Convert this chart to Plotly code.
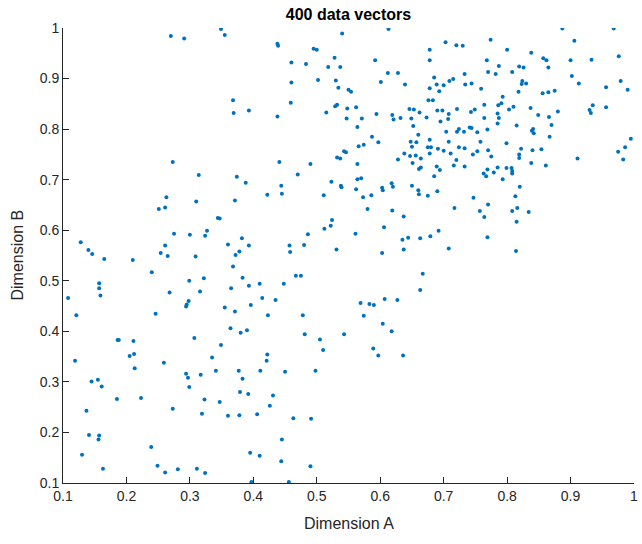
import plotly.graph_objects as go

# Dimension A / Dimension B values, grouped by region of the plot
dim_a = [
    # top-left
    0.270, 0.291, 0.273, 0.314,
    # top-centre
    0.349, 0.355, 0.540, 0.438, 0.439, 0.495, 0.500, 0.528, 0.460, 0.483, 0.518, 0.537,
    0.460, 0.502, 0.530, 0.534, 0.368, 0.369, 0.393, 0.459, 0.438, 0.515, 0.529, 0.532,
    0.548, 0.547, 0.543, 0.546, 0.532, 0.537, 0.441, 0.490, 0.374, 0.470,
    # top-centre-right
    0.613, 0.703, 0.720, 0.730, 0.774, 0.678, 0.678, 0.592, 0.768, 0.612, 0.628, 0.770,
    0.733, 0.601, 0.639, 0.685, 0.689, 0.700, 0.709, 0.715, 0.734, 0.744, 0.759, 0.678,
    0.693, 0.550, 0.554, 0.676, 0.683, 0.562, 0.571, 0.594, 0.619, 0.621, 0.632, 0.646,
    0.653, 0.662, 0.649, 0.673, 0.690, 0.698, 0.708, 0.707, 0.695, 0.721, 0.743, 0.749,
    0.764, 0.764, 0.564, 0.652, 0.704, 0.721, 0.724, 0.732, 0.741, 0.744, 0.753, 0.769,
    0.587, 0.597, 0.660, 0.678, 0.648, 0.657, 0.708, 0.758, 0.566, 0.574, 0.650, 0.675,
    0.680, 0.691, 0.700, 0.724, 0.733, 0.770, 0.638, 0.647, 0.656, 0.664, 0.678, 0.711,
    0.746, 0.753, 0.775, 0.628, 0.720, 0.651, 0.564, 0.689, 0.694, 0.661, 0.664, 0.716,
    0.733, 0.769, 0.763, 0.767, 0.685, 0.564, 0.570,
    # top-right
    0.887, 0.968, 0.906, 0.800, 0.838, 0.976, 0.857, 0.862, 0.900, 0.933, 0.787, 0.819,
    0.826, 0.865, 0.782, 0.808, 0.902, 0.824, 0.823, 0.830, 0.913, 0.979, 0.956, 0.990,
    0.818, 0.856, 0.865, 0.875, 0.793, 0.791, 0.786, 0.810, 0.803, 0.837, 0.935, 0.930,
    0.932, 0.956, 0.880, 0.785, 0.787, 0.849, 0.866, 0.785, 0.815, 0.870, 0.841, 0.839,
    0.842, 0.867, 0.995, 0.799, 0.986, 0.975, 0.983, 0.822, 0.840, 0.854, 0.819, 0.819,
    0.838, 0.861, 0.911, 0.785, 0.799, 0.807, 0.808, 0.808, 0.779, 0.793,
    # middle-left
    0.263, 0.310, 0.251, 0.261, 0.128, 0.275, 0.300, 0.261, 0.140, 0.146, 0.254, 0.265,
    0.309, 0.165, 0.210, 0.240, 0.299, 0.322, 0.157, 0.157, 0.159, 0.108, 0.268, 0.316,
    0.298, 0.295, 0.294, 0.121, 0.246,
    # middle-centre
    0.388, 0.523, 0.538, 0.539, 0.444, 0.422, 0.445, 0.511, 0.371, 0.344, 0.347, 0.524,
    0.522, 0.512, 0.327, 0.324, 0.382, 0.486, 0.360, 0.393, 0.457, 0.480, 0.458, 0.378,
    0.372, 0.531, 0.368, 0.467, 0.475, 0.383, 0.410, 0.448, 0.393, 0.365, 0.414, 0.435,
    0.396, 0.355, 0.371, 0.423, 0.478, 0.364, 0.390, 0.380, 0.481, 0.543,
    # middle-centre-right
    0.562, 0.573, 0.586, 0.603, 0.604, 0.618, 0.620, 0.650, 0.660, 0.661, 0.675, 0.690,
    0.580, 0.619, 0.637, 0.717, 0.747, 0.770, 0.757, 0.764, 0.606, 0.561, 0.692, 0.679,
    0.644, 0.663, 0.635, 0.637, 0.769, 0.708, 0.603, 0.667, 0.663, 0.569, 0.583, 0.590,
    0.607, 0.627, 0.574, 0.604, 0.618,
    # middle-right
    0.820, 0.813, 0.816, 0.808, 0.834, 0.815, 0.814,
    # bottom-left
    0.186, 0.188, 0.211, 0.307, 0.119, 0.205, 0.212, 0.213, 0.259, 0.294, 0.297, 0.317,
    0.145, 0.155, 0.161, 0.299, 0.185, 0.223, 0.137, 0.273, 0.141, 0.157, 0.156, 0.239,
    0.130, 0.249, 0.261, 0.281, 0.311, 0.163,
    # bottom-centre
    0.505, 0.349, 0.422, 0.421, 0.510, 0.335, 0.341, 0.377, 0.411, 0.450, 0.498, 0.383,
    0.379, 0.392, 0.431, 0.426, 0.323, 0.347, 0.319, 0.360, 0.378, 0.406, 0.463, 0.491,
    0.445, 0.395, 0.410, 0.444, 0.490, 0.324, 0.397, 0.456,
    # bottom-centre-right
    0.589, 0.597, 0.636,
]

dim_b = [
    # top-left
    0.984, 0.979, 0.735, 0.709,
    # top-centre
    0.998, 0.986, 0.989, 0.969, 0.965, 0.959, 0.957, 0.941, 0.932, 0.929, 0.923, 0.923,
    0.892, 0.897, 0.896, 0.882, 0.857, 0.832, 0.837, 0.852, 0.825, 0.833, 0.845, 0.848,
    0.841, 0.821, 0.756, 0.754, 0.744, 0.742, 0.735, 0.731, 0.706, 0.710,
    # top-centre-right
    0.998, 0.972, 0.966, 0.965, 0.977, 0.957, 0.936, 0.936, 0.936, 0.911, 0.911, 0.913,
    0.909, 0.893, 0.888, 0.902, 0.888, 0.887, 0.895, 0.899, 0.888, 0.890, 0.880, 0.881,
    0.875, 0.878, 0.874, 0.857, 0.857, 0.843, 0.821, 0.830, 0.828, 0.819, 0.822, 0.840,
    0.839, 0.833, 0.821, 0.823, 0.837, 0.837, 0.830, 0.820, 0.815, 0.840, 0.834, 0.839,
    0.848, 0.822, 0.804, 0.806, 0.795, 0.795, 0.800, 0.795, 0.803, 0.802, 0.794, 0.799,
    0.785, 0.774, 0.789, 0.779, 0.775, 0.774, 0.775, 0.775, 0.766, 0.769, 0.765, 0.764,
    0.764, 0.761, 0.757, 0.764, 0.762, 0.758, 0.752, 0.747, 0.748, 0.742, 0.752, 0.752,
    0.750, 0.756, 0.746, 0.740, 0.739, 0.733, 0.731, 0.726, 0.719, 0.721, 0.724, 0.728,
    0.726, 0.720, 0.712, 0.707, 0.707, 0.701, 0.703,
    # top-right
    0.999, 0.999, 0.975, 0.957, 0.951, 0.944, 0.940, 0.936, 0.936, 0.937, 0.925, 0.924,
    0.922, 0.922, 0.909, 0.913, 0.905, 0.895, 0.889, 0.890, 0.890, 0.895, 0.883, 0.878,
    0.874, 0.871, 0.873, 0.876, 0.864, 0.851, 0.847, 0.844, 0.839, 0.842, 0.847, 0.838,
    0.832, 0.843, 0.835, 0.831, 0.822, 0.828, 0.824, 0.811, 0.807, 0.808, 0.800, 0.797,
    0.792, 0.785, 0.781, 0.772, 0.764, 0.755, 0.740, 0.761, 0.758, 0.760, 0.750, 0.743,
    0.733, 0.728, 0.742, 0.724, 0.723, 0.723, 0.717, 0.712, 0.714, 0.701,
    # middle-left
    0.665, 0.657, 0.642, 0.645, 0.576, 0.593, 0.591, 0.570, 0.561, 0.553, 0.555, 0.549,
    0.548, 0.543, 0.541, 0.517, 0.500, 0.505, 0.495, 0.485, 0.471, 0.466, 0.477, 0.479,
    0.460, 0.453, 0.449, 0.432, 0.435,
    # middle-centre
    0.694, 0.696, 0.688, 0.685, 0.688, 0.670, 0.672, 0.669, 0.659, 0.624, 0.623, 0.620,
    0.609, 0.603, 0.599, 0.589, 0.584, 0.592, 0.572, 0.570, 0.570, 0.571, 0.557, 0.558,
    0.551, 0.562, 0.528, 0.510, 0.510, 0.506, 0.494, 0.494, 0.490, 0.485, 0.466, 0.462,
    0.452, 0.447, 0.439, 0.432, 0.432, 0.406, 0.402, 0.397, 0.394, 0.394,
    # middle-centre-right
    0.681, 0.665, 0.669, 0.684, 0.679, 0.693, 0.686, 0.688, 0.679, 0.671, 0.668, 0.677,
    0.642, 0.639, 0.627, 0.644, 0.664, 0.651, 0.638, 0.626, 0.606, 0.593, 0.599, 0.588,
    0.585, 0.584, 0.581, 0.562, 0.586, 0.564, 0.555, 0.514, 0.482, 0.456, 0.454, 0.452,
    0.464, 0.462, 0.431, 0.415, 0.400,
    # middle-right
    0.686, 0.667, 0.644, 0.638, 0.636, 0.617, 0.559,
    # bottom-left
    0.383, 0.383, 0.381, 0.387, 0.342, 0.351, 0.355, 0.327, 0.338, 0.316, 0.308, 0.314,
    0.301, 0.304, 0.291, 0.290, 0.266, 0.268, 0.243, 0.247, 0.195, 0.194, 0.186, 0.171,
    0.156, 0.134, 0.121, 0.127, 0.128, 0.128,
    # bottom-centre
    0.384, 0.373, 0.354, 0.342, 0.363, 0.348, 0.322, 0.322, 0.322, 0.320, 0.322, 0.306,
    0.280, 0.276, 0.273, 0.253, 0.265, 0.260, 0.237, 0.233, 0.234, 0.236, 0.228, 0.227,
    0.186, 0.160, 0.154, 0.143, 0.133, 0.120, 0.102, 0.102,
    # bottom-centre-right
    0.366, 0.352, 0.352,
]

tick_vals = [0.1, 0.2, 0.3, 0.4, 0.5, 0.6, 0.7, 0.8, 0.9, 1.0]
tick_text = ["0.1", "0.2", "0.3", "0.4", "0.5", "0.6", "0.7", "0.8", "0.9", "1"]

FONT = "Liberation Sans, Arial, sans-serif"
INK = "#262626"

fig = go.Figure(
    go.Scatter(
        x=dim_a, y=dim_b, mode="markers",
        marker=dict(color="#0072BD", size=4, line=dict(width=0)),
        hoverinfo="x+y",
    )
)

axis_common = dict(
    range=[0.1, 1.0], tickvals=tick_vals, ticktext=tick_text,
    ticks="inside", ticklen=6, tickwidth=1, tickcolor=INK,
    showline=True, linecolor=INK, linewidth=1,
    showgrid=False, zeroline=False, mirror=False,
    tickfont=dict(family=FONT, size=14, color=INK),
    ticklabeloverflow="allow",
)

fig.update_xaxes(**axis_common)
fig.update_yaxes(**axis_common)

fig.update_layout(
    width=642, height=544,
    margin=dict(l=63, r=4, t=28, b=61),
    paper_bgcolor="white", plot_bgcolor="white",
    showlegend=False,
    title=dict(
        text="<b>400 data vectors</b>", x=0.5, xref="paper", xanchor="center",
        y=1 - 14 / 544, yref="container", yanchor="middle",
        font=dict(family=FONT, size=16, color="black"),
    ),
    annotations=[
        dict(text="Dimension A", x=0.5, y=0, xref="paper", yref="paper",
             xanchor="center", yanchor="middle", yshift=-40, showarrow=False,
             font=dict(family=FONT, size=16, color=INK)),
        dict(text="Dimension B", x=0, y=0.5, xref="paper", yref="paper",
             xanchor="center", yanchor="middle", xshift=-46, textangle=-90,
             showarrow=False, font=dict(family=FONT, size=16, color=INK)),
    ],
)

fig.write_html("out.html")
